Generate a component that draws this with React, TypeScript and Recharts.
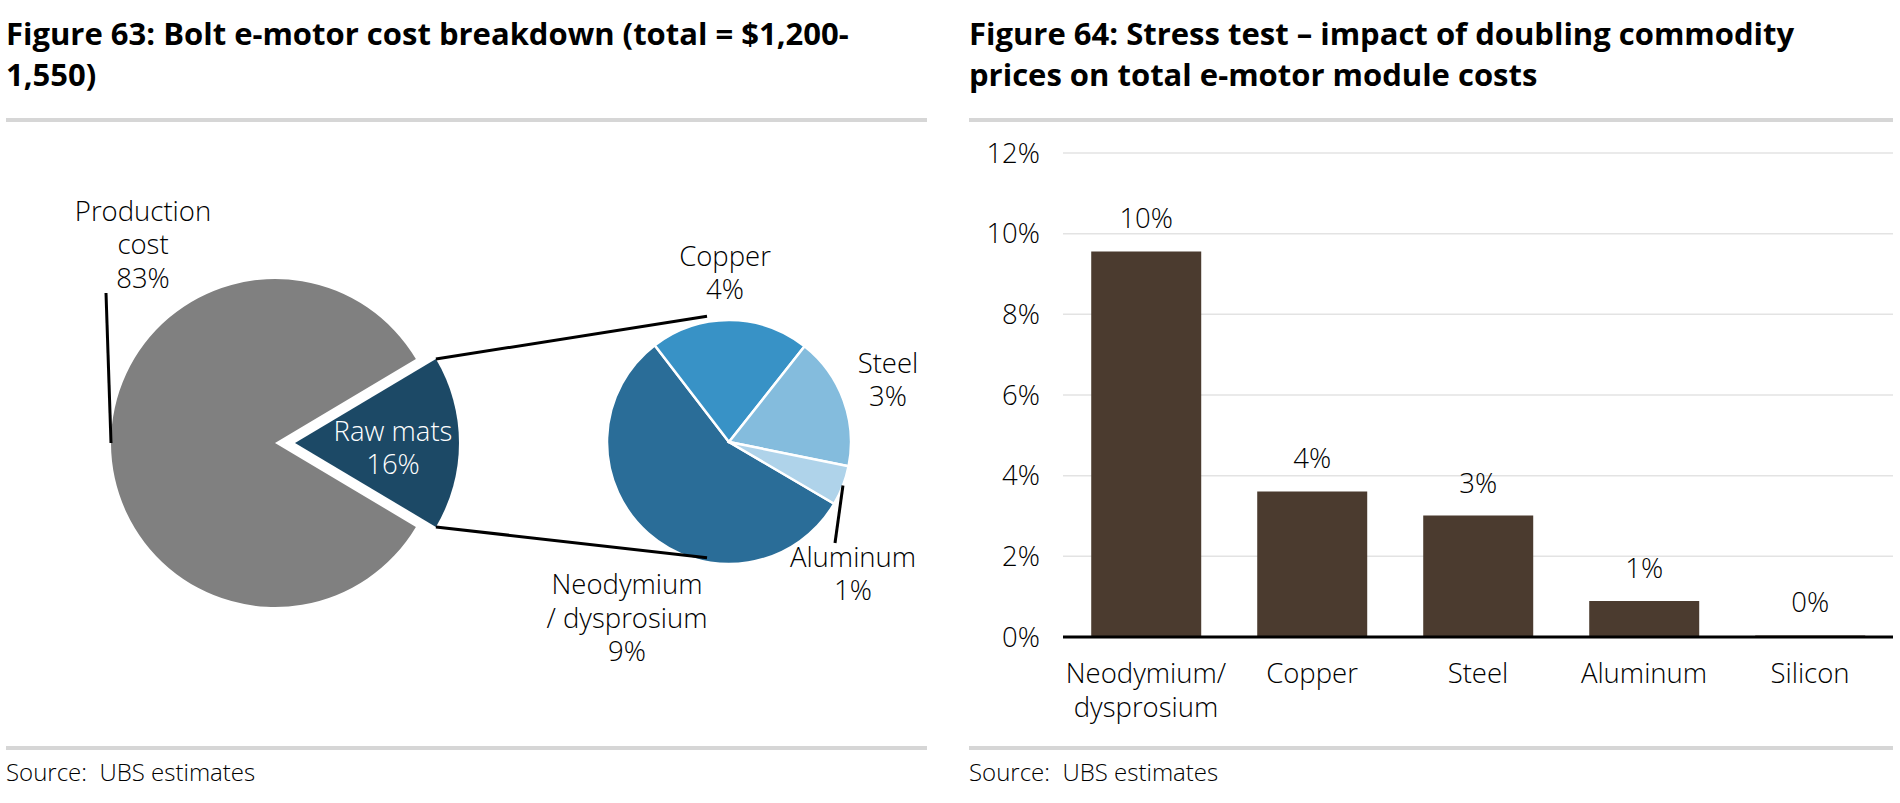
import React from "react";
import { PieChart, Pie, Cell, BarChart, Bar, XAxis, YAxis, CartesianGrid, LabelList } from "recharts";

// Figure 63: cost split, and the raw-materials breakout
const costParts = ["Raw mats", "Production cost"];
const costShares = [17.1, 82.9];
const costLabels = [["Raw mats", "16%"], ["Production", "cost", "83%"]];

const rawMatNames = ["Neodymium / dysprosium", "Copper", "Steel", "Aluminum"];
const rawMatShares = [9.6, 3.6, 3.0, 0.9];
const rawMatLabels = [["Neodymium", "/ dysprosium", "9%"], ["Copper", "4%"], ["Steel", "3%"], ["Aluminum", "1%"]];

// Figure 64: stress test
const commodities = ["Neodymium/ dysprosium", "Copper", "Steel", "Aluminum", "Silicon"];
const impactPct = [9.56, 3.61, 3.01, 0.89, 0.04];
const yTicks = [0, 2, 4, 6, 8, 10, 12];

const FONT = "'Open Sans', 'Noto Sans', sans-serif";
const FS = 27.5;
const LH = 33.5;
const RAD = Math.PI / 180;

const BIG = { cx: 270, cy: 318, r: 164, explode: 20 };
const SMALL = { cx: 724, cy: 317, r: 122, start: 329.6, link: 98 };

const costData = costParts.map((name, i) => ({ name, value: costShares[i] }));
const rawData = rawMatNames.map((name, i) => ({ name, value: rawMatShares[i] }));
const barData = commodities.map((name, i) => ({ name, value: impactPct[i] }));

const rawHalf = (costShares[0] / (costShares[0] + costShares[1])) * 180;

// label placement, offsets from pie centre (text block centre, optional leader end)
const bigLayout: any[] = [
  { dx: 98, dy: 8.5, fill: "#fff" },
  { dx: -132, dy: -194.5, fill: "#000", leader: [-169, -150] },
];
const smallLayout: any[] = [
  { dx: -102, dy: 180 },
  { dx: -4, dy: -165.5 },
  { dx: 159, dy: -58.5 },
  { dx: 124, dy: 135.5, leader: [106, 101] },
];

function Lines({ x, y, lines, fill }: any) {
  const first = y - ((lines.length - 1) * LH) / 2 + FS * 0.36 - 4;
  return (
    <text x={x} y={first} textAnchor="middle" fill={fill} fontSize={FS} fontWeight={300} fontFamily={FONT}>
      {lines.map((l: string, i: number) => (
        <tspan key={i} x={x} dy={i === 0 ? 0 : LH}>
          {l}
        </tspan>
      ))}
    </text>
  );
}

function edge(cx: number, cy: number, r: number, a: number) {
  return [cx + r * Math.cos(a * RAD), cy - r * Math.sin(a * RAD)];
}

function pieLabel(layout: any[], labels: string[][], show: number[], connect?: boolean) {
  return (p: any) => {
    const i = p.index;
    if (!show.includes(i)) return null;
    const lay = layout[i];
    const { cx, cy, outerRadius, midAngle } = p;
    let leader = null;
    if (lay.leader) {
      const [x1, y1] = edge(cx, cy, outerRadius, midAngle);
      leader = <line x1={x1} y1={y1} x2={cx + lay.leader[0]} y2={cy + lay.leader[1]} stroke="#000" strokeWidth={3} />;
    }
    let links = null;
    if (connect) {
      const [ux, uy] = edge(cx, cy, outerRadius, midAngle + rawHalf);
      const [lx, ly] = edge(cx, cy, outerRadius, midAngle - rawHalf);
      const [sux, suy] = edge(SMALL.cx, SMALL.cy, SMALL.r, SMALL.link);
      const [slx, sly] = edge(SMALL.cx, SMALL.cy, SMALL.r, -SMALL.link);
      links = (
        <g stroke="#000" strokeWidth={3}>
          <line x1={ux} y1={uy} x2={sux} y2={suy} />
          <line x1={lx} y1={ly} x2={slx} y2={sly} />
        </g>
      );
    }
    return (
      <g>
        {links}
        {leader}
        <Lines x={cx + lay.dx} y={cy + lay.dy} lines={labels[i]} fill={lay.fill || "#000"} />
      </g>
    );
  };
}

const costFills = ["#1c4966", "#808080"];
const rawFills = ["#2a6d98", "#3892c6", "#84bcdd", "#afd3ea"];

function CatTick({ x, y, payload }: any) {
  const lines = String(payload.value).split(" ");
  return (
    <text x={x} y={y + 44} textAnchor="middle" fill="#000" fontSize={FS} fontWeight={300} fontFamily={FONT}>
      {lines.map((l, i) => (
        <tspan key={i} x={x} dy={i === 0 ? 0 : 34}>
          {l}
        </tspan>
      ))}
    </text>
  );
}

const rule = (left: number, top: number, width: number): React.CSSProperties => ({
  position: "absolute",
  left,
  top,
  width,
  height: 4,
  background: "#d6d6d6",
});

const titleStyle = (left: number): React.CSSProperties => ({
  position: "absolute",
  left,
  top: 13,
  fontSize: 31,
  fontWeight: 700,
  lineHeight: "41px",
  color: "#000",
  whiteSpace: "pre",
});

const sourceStyle = (left: number): React.CSSProperties => ({
  position: "absolute",
  left,
  top: 757,
  fontSize: 24,
  fontWeight: 300,
  lineHeight: "30px",
  color: "#000",
  whiteSpace: "pre",
});

export default function App() {
  return (
    <div style={{ position: "absolute", left: 0, top: 0, width: 1900, height: 803, background: "#fff", fontFamily: FONT, overflow: "hidden" }}>
      <div style={titleStyle(6)}>{"Figure 63: Bolt e-motor cost breakdown (total = $1,200-\n1,550)"}</div>
      <div style={titleStyle(969)}>{"Figure 64: Stress test \u2013 impact of doubling commodity\nprices on total e-motor module costs"}</div>
      <div style={rule(6, 118, 921)} />
      <div style={rule(969, 118, 924)} />

      <div style={{ position: "absolute", left: 0, top: 120 }}>
        <PieChart width={950} height={620}>
          <Pie
            data={costData}
            dataKey="value"
            cx={BIG.cx}
            cy={BIG.cy}
            outerRadius={BIG.r}
            startAngle={-rawHalf}
            endAngle={360 - rawHalf}
            stroke="none"
            labelLine={false}
            label={pieLabel(bigLayout, costLabels, [1])}
            isAnimationActive={false}
          >
            <Cell fill="transparent" />
            <Cell fill={costFills[1]} />
          </Pie>
          <Pie
            data={costData}
            dataKey="value"
            cx={BIG.cx + BIG.explode}
            cy={BIG.cy}
            outerRadius={BIG.r}
            startAngle={-rawHalf}
            endAngle={360 - rawHalf}
            stroke="none"
            labelLine={false}
            label={pieLabel(bigLayout, costLabels, [0], true)}
            isAnimationActive={false}
          >
            <Cell fill={costFills[0]} />
            <Cell fill="transparent" />
          </Pie>
          <Pie
            data={rawData}
            dataKey="value"
            cx={SMALL.cx}
            cy={SMALL.cy}
            outerRadius={SMALL.r}
            startAngle={SMALL.start}
            endAngle={SMALL.start - 360}
            stroke="#fff"
            strokeWidth={2.5}
            labelLine={false}
            label={pieLabel(smallLayout, rawMatLabels, [0, 1, 2, 3])}
            isAnimationActive={false}
          >
            {rawData.map((d, i) => (
              <Cell key={d.name} fill={rawFills[i]} />
            ))}
          </Pie>
        </PieChart>
      </div>

      <div style={{ position: "absolute", left: 960, top: 130 }}>
        <BarChart width={940} height={620} data={barData} margin={{ top: 23, right: 7, bottom: 33, left: 23 }} barCategoryGap="17%">
          <CartesianGrid vertical={false} stroke="#e3e3e3" strokeWidth={1.5} />
          <XAxis
            dataKey="name"
            interval={0}
            tickLine={false}
            tickSize={0}
            axisLine={{ stroke: "#000", strokeWidth: 3 }}
            height={80}
            tick={<CatTick />}
          />
          <YAxis
            domain={[0, 12]}
            ticks={yTicks}
            tickFormatter={(v: number) => `${v}%`}
            axisLine={false}
            tickLine={false}
            tickSize={0}
            tickMargin={23}
            width={80}
            tick={{ fontSize: FS, fill: "#000", fontWeight: 300 }}
          />
          <Bar dataKey="value" fill="#4b3b2f" isAnimationActive={false}>
            <LabelList
              dataKey="value"
              position="top"
              offset={23}
              fill="#000"
              fontSize={FS}
              fontWeight={300}
              formatter={(v: any) => `${Math.round(Number(v))}%`}
            />
          </Bar>
        </BarChart>
      </div>

      <div style={rule(6, 746, 921)} />
      <div style={rule(969, 746, 924)} />
      <div style={sourceStyle(6)}>{"Source:  UBS estimates"}</div>
      <div style={sourceStyle(969)}>{"Source:  UBS estimates"}</div>
    </div>
  );
}
